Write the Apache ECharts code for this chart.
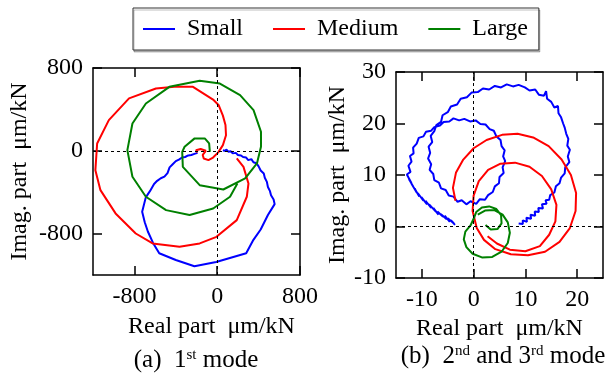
<!DOCTYPE html>
<html>
<head>
<meta charset="UTF-8">
<title></title>
<script src="https://cdn.jsdelivr.net/npm/echarts@6/dist/echarts.min.js" type="text/javascript" charset="utf-8"></script>
<style>html, body { margin: 0; padding: 0; background: #fff; }</style>
</head>
<body>
<div id="chart" style="width: 606px; height: 373px;"></div>
<script type="text/javascript">
// ---- data ----
var seriesNames = ['Small', 'Medium', 'Large'];
var seriesColors = ['#0000ff', '#ff0000', '#008000'];

// (a) 1st mode, um/kN
var smallRe1 = [-190, -220, -250, -280, -310, -340, -370, -400, -430, -460, -480, -510, -545, -580, -610, -650, -690, -725, -700, -670, -620, -560, -400, -220, -10, 280, 350, 420, 490, 555, 545, 520, 510, 490, 480, 460, 450, 420, 400, 380, 350, 330, 300, 280, 250, 230, 200, 180, 150, 130, 110, 90, 70, 55];
var smallIm1 = [-20, -30, -40, -45, -60, -65, -85, -100, -130, -160, -215, -250, -265, -290, -320, -390, -450, -590, -690, -780, -890, -990, -1055, -1115, -1075, -990, -860, -760, -620, -515, -470, -430, -390, -350, -300, -260, -220, -190, -150, -120, -110, -80, -90, -65, -60, -45, -40, -20, -25, -5, -10, 10, 0, 5];
var mediumRe1 = [-190, -205, -160, -110, -140, -130, -85, -40, 10, 55, 85, 80, 55, 15, -40, -234, -413, -592, -852, -1047, -1160, -1177, -1128, -982, -787, -624, -364, -169, -7, 189, 286, 302, 254, 189];
var mediumIm1 = [-15, 5, 18, 0, -40, -75, -90, -65, -15, 55, 150, 250, 340, 440, 495, 618, 618, 602, 506, 296, 71, -187, -380, -605, -799, -895, -927, -895, -831, -670, -444, -316, -155, -74];
var largeRe1 = [-71, -78, -120, -218, -315, -338, -332, -169, 59, 270, 384, 423, 423, 351, 221, 26, -169, -462, -689, -819, -868, -819, -689, -494, -267, -39, 124, 195];
var largeIm1 = [-10, 72, 120, 120, 39, -10, -155, -332, -374, -267, -122, 39, 184, 393, 538, 650, 676, 618, 457, 264, 6, -251, -444, -573, -621, -557, -444, -316];

// (b) 2nd and 3rd mode, um/kN
var smallRe2 = [-3.6, -4.4, -3.8, -5.0, -4.6, -5.6, -5.2, -6.3, -5.9, -7.0, -6.8, -7.8, -7.3, -8.6, -8.2, -9.3, -9.0, -10.1, -9.7, -10.8, -10.5, -11.4, -11.0, -12.0, -11.6, -12.5, -12.0, -12.9, -12.2,
	-12.6, -12.0, -12.3, -11.6, -11.7, -11.0, -10.6, -9.7, -9.2, -8.2, -7.6, -6.5, -5.8, -4.7, -3.9, -2.8, -1.8, -0.7, 0.4, 1.3, 2.3, 3.1, 3.9, 4.4, 5.2, 5.4, 6.0, 5.7, 6.1, 5.6, 5.8, 5.0, 4.9, 4.1, 3.7, 2.8, 2.2, 1.2, 0.5, -0.6, -1.4, -2.3, -3.1, -3.9, -4.8, -5.4, -6.3, -6.7, -7.6, -7.8, -8.5, -8.2, -8.8, -8.4, -8.7, -8.0, -8.3, -7.6, -7.2, -6.3, -6.0, -5.0, -4.4, -3.2, -2.5, -1.3, -0.4, 0.8, 1.8, 3.0, 4.1, 5.3, 6.4, 7.6, 8.7, 9.9, 10.8, 11.9, 12.6, 13.6, 14.0, 14.2, 15.0, 15.6, 16.3, 16.4, 16.9, 17.3, 17.6, 17.9, 18.3, 18.1, 18.6, 18.2, 18.5, 17.7, 17.6, 16.9, 16.6, 15.9, 15.6,
	14.8, 14.6, 13.9, 14.1, 13.2, 13.4, 12.5, 12.6, 11.8, 11.9, 11.0, 11.1, 10.2, 10.3, 9.5, 9.5, 8.7];
var smallIm2 = [0.3, 1.2, 0.6, 1.6, 0.9, 2.1, 1.4, 2.4, 1.9, 2.9, 2.3, 3.6, 2.9, 4.3, 3.6, 5.0, 4.3, 5.7, 5.0, 6.5, 5.8, 7.4, 6.6, 8.3, 7.6, 9.2, 8.4, 10.1, 10.6,
	11.8, 12.6, 13.7, 14.2, 15.3, 16.1, 17.2, 17.5, 18.4, 18.6, 19.3, 19.6, 20.3, 20.4, 21.0, 20.6, 20.9, 20.4, 20.6, 19.9, 19.8, 18.9, 18.6, 17.5, 16.8, 15.6, 14.8, 13.6, 12.7, 11.5, 10.4, 9.6, 8.4, 7.8, 6.7, 6.1, 5.2, 5.3, 4.4, 4.9, 4.3, 5.1, 4.8, 5.8, 6.0, 7.1, 7.4, 8.5, 9.0, 10.2, 11.0, 12.1, 13.2, 14.3, 15.5, 16.4, 17.6, 18.5, 19.7, 20.3, 21.6, 22.2, 23.3, 23.7, 24.8, 25.1, 26.0, 26.1, 26.8, 26.6, 27.3, 27.0, 27.6, 27.2, 27.5, 27.0, 26.4, 26.6, 25.6, 25.4, 26.3, 24.8, 24.2, 23.1, 23.4, 22.0, 21.2, 20.0, 19.2, 18.0, 17.0, 15.7, 14.9, 13.6, 12.5, 11.5, 10.3, 9.5, 8.4, 7.8, 6.6,
	6.1, 5.2, 5.1, 4.4, 4.3, 3.5, 3.6, 2.8, 2.9, 2.1, 2.3, 1.5, 1.7, 0.9, 1.2, 0.5, 0.6];
var mediumRe2 = [-3.5, -4.0, -3.4, -2.0, 0.0, 2.5, 5.5, 8.5, 11.5, 14.5, 17.0, 18.8, 19.8, 19.7, 18.6, 16.6, 13.8, 10.5, 7.2, 4.2, 2.0, 0.6, -0.2, 0.0, 1.0, 2.8, 5.2, 8.0, 10.8, 13.2, 15.0, 16.0, 15.8, 14.6, 12.8, 10.0, 7.0, 4.5, 2.7];
var mediumIm2 = [5.0, 7.5, 10.5, 13.0, 15.2, 16.8, 17.8, 18.0, 17.3, 15.6, 13.0, 10.0, 6.5, 3.0, -0.3, -3.0, -4.9, -5.6, -5.4, -4.4, -2.6, -0.3, 3.0, 6.0, 8.8, 11.0, 12.2, 12.4, 11.6, 9.8, 7.2, 4.2, 1.0, -1.6, -3.8, -4.8, -4.5, -3.3, -1.9];
var largeRe2 = [2.3, 3.3, 4.6, 5.4, 5.3, 4.4, 3.0, 1.6, 0.5, 0.0, -0.6, -1.6, -1.9, -1.4, -0.2, 1.6, 3.6, 5.4, 6.6, 7.0, 6.6, 5.6, 4.0, 2.2, 0.8];
var largeIm2 = [0.3, -0.6, -0.5, 0.6, 2.2, 3.4, 3.9, 3.7, 2.8, 1.5, 0.2, -1.0, -2.5, -4.0, -5.3, -6.0, -5.9, -4.9, -3.2, -1.2, 0.8, 2.3, 3.2, 3.1, 2.3];

// tick labels
var ticks1 = [-800, 0, 800];
var ticksX2 = [-10, 0, 10, 20];
var ticksY2 = [-10, 0, 10, 20, 30];

// ---- chart ----
var serif = 'Liberation Serif';

function zip(re, im) {
	var out = [];
	for (var i = 0; i < re.length; i++) out.push([re[i], im[i]]);
	return out;
}

// main axis carries labels, the mirrored one only ticks
function makeAxis(grid, min, max, ticks, pos, main, name, nameGap, namePad) {
	return {
		type: 'value', gridIndex: grid, position: pos, min: min, max: max,
		axisLine: { show: true, onZero: false, lineStyle: { color: '#000', width: 1.5 } },
		axisTick: { show: true, inside: true, length: 9, customValues: ticks, lineStyle: { color: '#000', width: 1.5 } },
		axisLabel: { show: main, customValues: ticks, margin: 10, color: '#000', fontFamily: serif, fontSize: 24 },
		splitLine: { show: false },
		name: main ? name : '',
		nameLocation: 'middle',
		nameGap: nameGap,
		nameTextStyle: { color: '#000', fontFamily: serif, fontSize: 24, padding: namePad || 0 }
	};
}

var rawData = [
	[zip(smallRe1, smallIm1), zip(mediumRe1, mediumIm1), zip(largeRe1, largeIm1)],
	[zip(smallRe2, smallIm2), zip(mediumRe2, mediumIm2), zip(largeRe2, largeIm2)]
];

var zeroLines = {
	silent: true, symbol: 'none', animation: false,
	label: { show: false },
	lineStyle: { color: '#000', type: [3, 3], width: 1 },
	data: [{ xAxis: 0 }, { yAxis: 0 }]
};

var series = [];
for (var g = 0; g < 2; g++) {
	for (var s = 0; s < 3; s++) {
		var item = {
			name: seriesNames[s], type: 'line', xAxisIndex: g * 2, yAxisIndex: g * 2,
			data: rawData[g][s], showSymbol: false, symbol: 'none',
			color: seriesColors[s], lineStyle: { color: seriesColors[s], width: 2 }
		};
		if (s === 0) item.markLine = zeroLines;
		series.push(item);
	}
}

var captionStyle = function (text, x, y) {
	return {
		type: 'text', x: x, y: y,
		style: {
			text: text, align: 'center', verticalAlign: 'middle', fill: '#000',
			fontSize: 25, fontFamily: serif,
			rich: { sup: { fontSize: 15, fontFamily: serif, verticalAlign: 'top', fill: '#000', padding: [0, 0, 6, 0] } }
		}
	};
};

var chart = echarts.init(document.getElementById('chart'));
var option = {
	animation: false,
	backgroundColor: '#fff',
	legend: {
		data: seriesNames,
		left: 133, top: 8,
		padding: [9, 11, 9, 10],
		itemGap: 30, itemWidth: 32, itemHeight: 2, icon: 'rect',
		borderColor: '#333', borderWidth: 1, borderRadius: 0,
		backgroundColor: '#fff',
		shadowColor: 'rgba(0,0,0,0.25)', shadowOffsetX: 1, shadowOffsetY: 2, shadowBlur: 0,
		textStyle: { color: '#000', fontFamily: serif, fontSize: 24, padding: [0, 0, 0, 7] }
	},
	grid: [
		{ left: 93, top: 68, width: 207, height: 207 },
		{ left: 396, top: 72, width: 207, height: 206 }
	],
	xAxis: [
		makeAxis(0, -1200, 800, ticks1, 'bottom', true, 'Real part  \u03bcm/kN', 40, [0, 0, 0, 30]),
		makeAxis(0, -1200, 800, ticks1, 'top', false),
		makeAxis(1, -15, 25, ticksX2, 'bottom', true, 'Real part  \u03bcm/kN', 37),
		makeAxis(1, -15, 25, ticksX2, 'top', false)
	],
	yAxis: [
		makeAxis(0, -1200, 800, ticks1, 'left', true, 'Imag. part  \u03bcm/kN', 61),
		makeAxis(0, -1200, 800, ticks1, 'right', false),
		makeAxis(1, -10, 30, ticksY2, 'left', true, 'Imag. part  \u03bcm/kN', 43),
		makeAxis(1, -10, 30, ticksY2, 'right', false)
	],
	graphic: [
		captionStyle('(a)  1{sup|st} mode', 196, 360),
		captionStyle('(b)  2{sup|nd} and 3{sup|rd} mode', 503, 356)
	],
	series: series
};
chart.setOption(option);
</script>
</body>
</html>
